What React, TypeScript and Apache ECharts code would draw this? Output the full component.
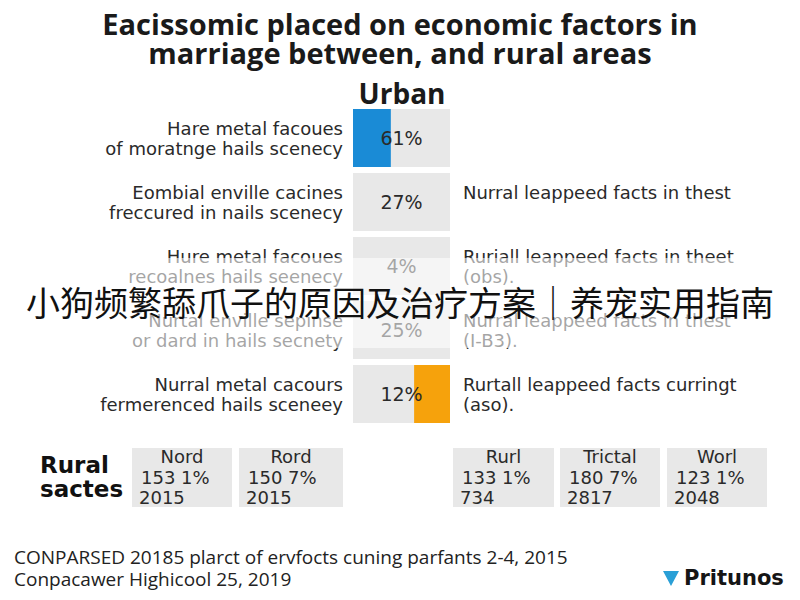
import React, { useEffect, useRef } from "react";
import * as echarts from "echarts";

const titleText = "Eacissomic placed on economic factors in\nmarriage between, and rural areas";
const sectionTitle = "Urban";

const urbanFactors = [
  "Hare metal facoues\nof moratnge hails scenecy",
  "Eombial enville cacines\nfreccured in nails scenecy",
  "Hure metal facoues\nrecoalnes hails seenecy",
  "Nurtal enville sepinse\nor dard in hails secnety",
  "Nurral metal cacours\nfermerenced hails sceneey",
];
const urbanNotes = [
  "",
  "Nurral leappeed facts in thest\n ",
  "Ruriall leappeed facts in theet\n(obs).",
  "Nurral leappeed facts in thest\n(I-B3).",
  "Rurtall leappeed facts curringt\n(aso).",
];
const urbanShares = ["61%", "27%", "4%", "25%", "12%"];
const trackValues = [100, 100, 100, 100, 100];
const blueFill: (number | string)[] = [39, "-", "-", "-", "-"];
const orangeOffset: (number | string)[] = ["-", "-", "-", "-", 63];
const orangeFill: (number | string)[] = ["-", "-", "-", "-", 37];

const ruralHeading = "Rural\nsactes";
const ruralNames = ["Nord", "Rord", "Rurl", "Trictal", "Worl"];
const ruralPercents = ["153 1%", "150 7%", "133 1%", "180 7%", "123 1%"];
const ruralYears = ["2015", "2015", "734", "2817", "2048"];

const footnotes = [
  "CONPARSED 20185 plarct of ervfocts cuning parfants 2-4, 2015",
  "Conpacawer Highicool 25, 2019",
];
const brandName = "Pritunos";
const overlayCaption = "小狗频繁舔爪子的原因及治疗方案｜养宠实用指南";

const GRAY = "#e8e8e8";
const BLUE = "#1a8bd6";
const ORANGE = "#f6a20c";
const TEXT = "#2a2a2a";
const BODY_FONT = "DejaVu Sans";

export default function App() {
  const ref = useRef<HTMLDivElement>(null);

  useEffect(() => {
    if (!ref.current) return;
    const chart = echarts.init(ref.current, undefined, { renderer: "svg" });

    const boxX = [132, 239, 453, 560, 667];
    const boxW = [100, 104, 101, 100, 100];
    const boxY = 448;
    const boxH = 59;

    const ruralGraphics: any[] = [];
    ruralNames.forEach((name, i) => {
      ruralGraphics.push({
        type: "rect",
        shape: { x: boxX[i], y: boxY, width: boxW[i], height: boxH },
        style: { fill: GRAY },
      });
      ruralGraphics.push({
        type: "text",
        x: boxX[i] + boxW[i] / 2,
        y: boxY + 8,
        style: {
          text: name,
          fill: TEXT,
          fontSize: 18,
          fontFamily: BODY_FONT,
          textAlign: "center",
          textVerticalAlign: "middle",
        },
      });
      ruralGraphics.push({
        type: "text",
        x: boxX[i] + 9,
        y: boxY + 29,
        style: {
          text: ruralPercents[i],
          fill: TEXT,
          fontSize: 18,
          fontFamily: BODY_FONT,
          textAlign: "left",
          textVerticalAlign: "middle",
        },
      });
      ruralGraphics.push({
        type: "text",
        x: boxX[i] + 7,
        y: boxY + 49,
        style: {
          text: ruralYears[i],
          fill: TEXT,
          fontSize: 18,
          fontFamily: BODY_FONT,
          textAlign: "left",
          textVerticalAlign: "middle",
        },
      });
    });

    const option: any = {
      animation: false,
      backgroundColor: "#ffffff",
      title: [
        {
          text: titleText,
          left: "center",
          top: 4,
          textStyle: {
            fontSize: 29,
            fontWeight: "bold",
            fontFamily: "Open Sans",
            color: "#1a1a1a",
            lineHeight: 29,
          },
        },
        {
          text: sectionTitle,
          left: 397,
          top: 74,
          textAlign: "center",
          textStyle: {
            fontSize: 28,
            fontWeight: "bold",
            fontFamily: "Open Sans",
            color: "#1a1a1a",
          },
        },
      ],
      grid: { left: 353, right: 350, top: 106, height: 320 },
      xAxis: { type: "value", min: 0, max: 100, show: false },
      yAxis: [
        {
          type: "category",
          data: urbanFactors,
          inverse: true,
          position: "left",
          axisLine: { show: false },
          axisTick: { show: false },
          axisLabel: {
            margin: 10,
            align: "right",
            color: TEXT,
            fontSize: 18,
            fontFamily: BODY_FONT,
            lineHeight: 20,
          },
        },
        {
          type: "category",
          data: urbanNotes,
          inverse: true,
          position: "right",
          axisLine: { show: false },
          axisTick: { show: false },
          axisLabel: {
            margin: 13,
            align: "left",
            color: TEXT,
            fontSize: 18,
            fontFamily: BODY_FONT,
            lineHeight: 20,
          },
        },
      ],
      series: [
        {
          name: "track",
          type: "bar",
          data: trackValues,
          barWidth: 58,
          barGap: "-100%",
          itemStyle: { color: GRAY },
          z: 1,
        },
        {
          name: "urban",
          type: "bar",
          stack: "fill",
          data: blueFill,
          barWidth: 58,
          barGap: "-100%",
          itemStyle: { color: BLUE },
          z: 2,
        },
        {
          name: "offset",
          type: "bar",
          stack: "fill",
          data: orangeOffset,
          barWidth: 58,
          barGap: "-100%",
          itemStyle: { color: "rgba(0,0,0,0)" },
          z: 2,
        },
        {
          name: "rural",
          type: "bar",
          stack: "fill",
          data: orangeFill,
          barWidth: 58,
          barGap: "-100%",
          itemStyle: { color: ORANGE },
          z: 2,
        },
        {
          name: "shares",
          type: "bar",
          data: trackValues,
          barWidth: 58,
          barGap: "-100%",
          itemStyle: { color: "rgba(0,0,0,0)" },
          label: {
            show: true,
            position: "inside",
            formatter: (p: any) => urbanShares[p.dataIndex],
            color: TEXT,
            fontSize: 19,
            fontFamily: BODY_FONT,
          },
          z: 3,
        },
      ],
      graphic: [
        {
          type: "rect",
          z: 100,
          shape: { x: 0, y: 258, width: 800, height: 90 },
          style: { fill: "rgba(255,255,255,0.58)" },
        },
        {
          type: "text",
          z: 101,
          x: 400,
          y: 301,
          style: {
            text: overlayCaption,
            fill: "#111111",
            fontSize: 34,
            fontFamily: "Noto Sans CJK SC",
            textAlign: "center",
            textVerticalAlign: "middle",
          },
        },
        {
          type: "text",
          x: 40,
          y: 477,
          style: {
            text: ruralHeading,
            fill: "#111111",
            fontSize: 23,
            fontWeight: "bold",
            fontFamily: BODY_FONT,
            lineHeight: 24,
            textAlign: "left",
            textVerticalAlign: "middle",
          },
        },
        ...ruralGraphics,
        {
          type: "text",
          x: 14,
          y: 557,
          style: {
            text: footnotes[0],
            fill: "#222222",
            fontSize: 19,
            fontFamily: "Open Sans",
            textAlign: "left",
            textVerticalAlign: "middle",
          },
        },
        {
          type: "text",
          x: 14,
          y: 579,
          style: {
            text: footnotes[1],
            fill: "#222222",
            fontSize: 19,
            fontFamily: "Open Sans",
            textAlign: "left",
            textVerticalAlign: "middle",
          },
        },
        {
          type: "polygon",
          shape: { points: [[663, 571], [679, 571], [671, 586]] },
          style: { fill: "#2a9fd6" },
        },
        {
          type: "text",
          x: 684,
          y: 578,
          style: {
            text: brandName,
            fill: "#151515",
            fontSize: 21,
            fontWeight: "bold",
            fontFamily: BODY_FONT,
            textAlign: "left",
            textVerticalAlign: "middle",
          },
        },
      ],
    };

    chart.setOption(option);
    return () => chart.dispose();
  }, []);

  return (
    <div
      ref={ref}
      style={{ position: "fixed", left: 0, top: 0, width: 800, height: 600 }}
    />
  );
}
